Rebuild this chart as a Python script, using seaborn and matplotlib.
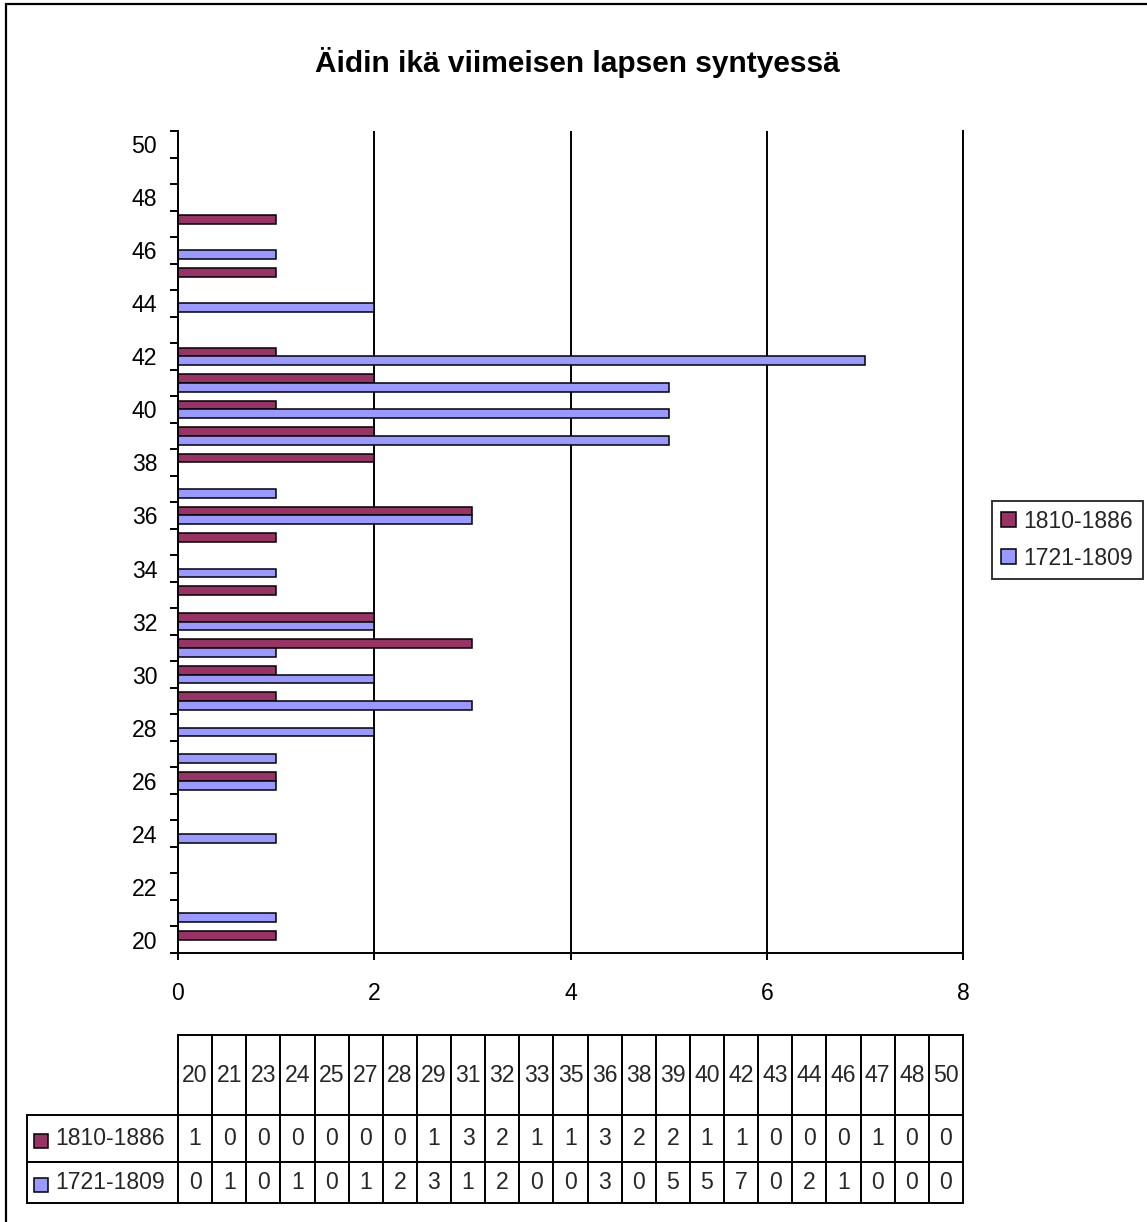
import matplotlib
matplotlib.use("Agg")
import matplotlib.pyplot as plt
from matplotlib.patches import Rectangle
import seaborn as sns
import pandas as pd

# ---------------- data ----------------
ages = list(range(20, 51))
series_names = ["1810-1886", "1721-1809"]
counts_1810_1886 = [1, 0, 0, 0, 0, 0, 1, 0, 0, 1, 1, 3, 2, 1, 0, 1,
                    3, 0, 2, 2, 1, 2, 1, 0, 0, 1, 0, 1, 0, 0, 0]
counts_1721_1809 = [0, 1, 0, 0, 1, 0, 1, 1, 2, 3, 2, 1, 2, 0, 1, 0,
                    3, 1, 0, 5, 5, 5, 7, 0, 2, 0, 1, 0, 0, 0, 0]
table_ages = [20, 21, 23, 24, 25, 27, 28, 29, 31, 32, 33, 35, 36, 38, 39,
              40, 42, 43, 44, 46, 47, 48, 50]
ytick_ages = list(range(20, 51, 2))
xticks = [0, 2, 4, 6, 8]
title = "Äidin ikä viimeisen lapsen syntyessä"
colors = {"1810-1886": "#993366", "1721-1809": "#9999FF"}

# ---------------- style ----------------
sns.set_style("white")
plt.rcParams["font.family"] = ["Liberation Sans", "DejaVu Sans"]

W, H = 1147, 1222
fig = plt.figure(figsize=(W / 100, H / 100), dpi=100)
fig.patch.set_facecolor("white")


def fx(px):
    return px / W


def fy(py):
    return 1 - py / H


ax = fig.add_axes([fx(178), fy(953), fx(963) - fx(178), fy(131) - fy(953)])

df = pd.DataFrame({
    "age": [str(a) for a in ages] * 2,
    "series": [series_names[0]] * len(ages) + [series_names[1]] * len(ages),
    "count": counts_1810_1886 + counts_1721_1809,
})
order = [str(a) for a in ages[::-1]]
sns.barplot(data=df, y="age", x="count", hue="series", order=order,
            hue_order=series_names, palette=colors, orient="h", width=0.67,
            edgecolor="black", linewidth=1.1, saturation=1, errorbar=None,
            legend=False, ax=ax)

LW = 1.4
ax.set_xlim(0, 8)
ax.set_ylim(len(ages) - 0.5, -0.5)
ax.set_xlabel("")
ax.set_ylabel("")
ax.set_xticks(xticks)
ax.set_xticklabels([str(t) for t in xticks])
ax.xaxis.grid(True, color="black", linewidth=LW)
ax.yaxis.grid(False)
ax.set_axisbelow(True)

ypos = [order.index(str(a)) for a in ytick_ages]
ax.set_yticks(ypos)
ax.set_yticklabels([str(a) for a in ytick_ages])
ax.set_yticks([i - 0.5 for i in range(len(ages) + 1)], minor=True)
ax.tick_params(axis="y", which="major", length=0, pad=15, labelsize=16.6,
               colors="black")
ax.tick_params(axis="y", which="minor", left=True, length=5.8, width=LW,
               direction="out", color="black")
ax.tick_params(axis="x", which="major", bottom=True, length=5, width=LW,
               direction="out", pad=16, labelsize=16.6, colors="black")

for side in ["left", "bottom", "right"]:
    ax.spines[side].set_visible(True)
    ax.spines[side].set_color("black")
    ax.spines[side].set_linewidth(LW)
ax.spines["top"].set_visible(False)

# ---------------- legend ----------------
handles = [ax.containers[0].patches[0], ax.containers[1].patches[0]]
leg = fig.legend(handles, series_names, loc="center left",
                 bbox_to_anchor=(fx(992), fy(540)), bbox_transform=fig.transFigure,
                 fontsize=16.6, frameon=True, fancybox=False, shadow=False,
                 handlelength=0.62, handleheight=0.62, handletextpad=0.35,
                 labelspacing=0.6, borderpad=0.4, borderaxespad=0)
leg.get_frame().set_edgecolor("black")
leg.get_frame().set_linewidth(LW)
for hnd in leg.legend_handles:
    hnd.set_edgecolor("black")
    hnd.set_linewidth(1.1)

# ---------------- title ----------------
fig.text(fx(577), fy(72), title, ha="center", va="baseline",
         fontsize=21.5, fontweight="bold", color="black")

# ---------------- data table ----------------
v1810 = dict(zip(ages, counts_1810_1886))
v1721 = dict(zip(ages, counts_1721_1809))
cell_text = [[series_names[0]] + [str(v1810[a]) for a in table_ages],
             [series_names[1]] + [str(v1721[a]) for a in table_ages]]

x0 = (27 - 178) / 785
w = (963 - 27) / 785
y0 = (953 - 1203) / 822
h = (1203 - 1035) / 822
col_w = 785 / len(table_ages)
tbl = ax.table(cellText=cell_text,
               colLabels=[""] + [str(a) for a in table_ages],
               colWidths=[151] + [col_w] * len(table_ages),
               cellLoc="center", colLoc="center",
               bbox=[x0, y0, w, h])
tbl.auto_set_font_size(False)
tbl.set_fontsize(16.6)
row_h = {0: 80, 1: 47, 2: 41}
for (r, c), cell in tbl.get_celld().items():
    cell.set_height(row_h[r])
    cell.set_edgecolor("black")
    cell.set_linewidth(LW)
    cell.set_facecolor("white")
    if c == 0:
        if r == 0:
            cell.visible_edges = "open"
            cell.set_facecolor("none")
        else:
            cell.get_text().set_horizontalalignment("left")
            cell.PAD = 0.19

# legend keys in the table row labels
for yc, name in [(1141, series_names[0]), (1185, series_names[1])]:
    fig.patches.append(Rectangle((fx(34), fy(yc + 7)), fx(14), 14 / H,
                                 transform=fig.transFigure,
                                 facecolor=colors[name], edgecolor="black",
                                 linewidth=1.1))

# ---------------- figure frame ----------------
fig.patches.append(Rectangle((fx(6), -0.1), 2, fy(4) + 0.1,
                             transform=fig.transFigure, fill=False,
                             edgecolor="black", linewidth=1.6))

fig.savefig("out.png", dpi=100, facecolor="white")
